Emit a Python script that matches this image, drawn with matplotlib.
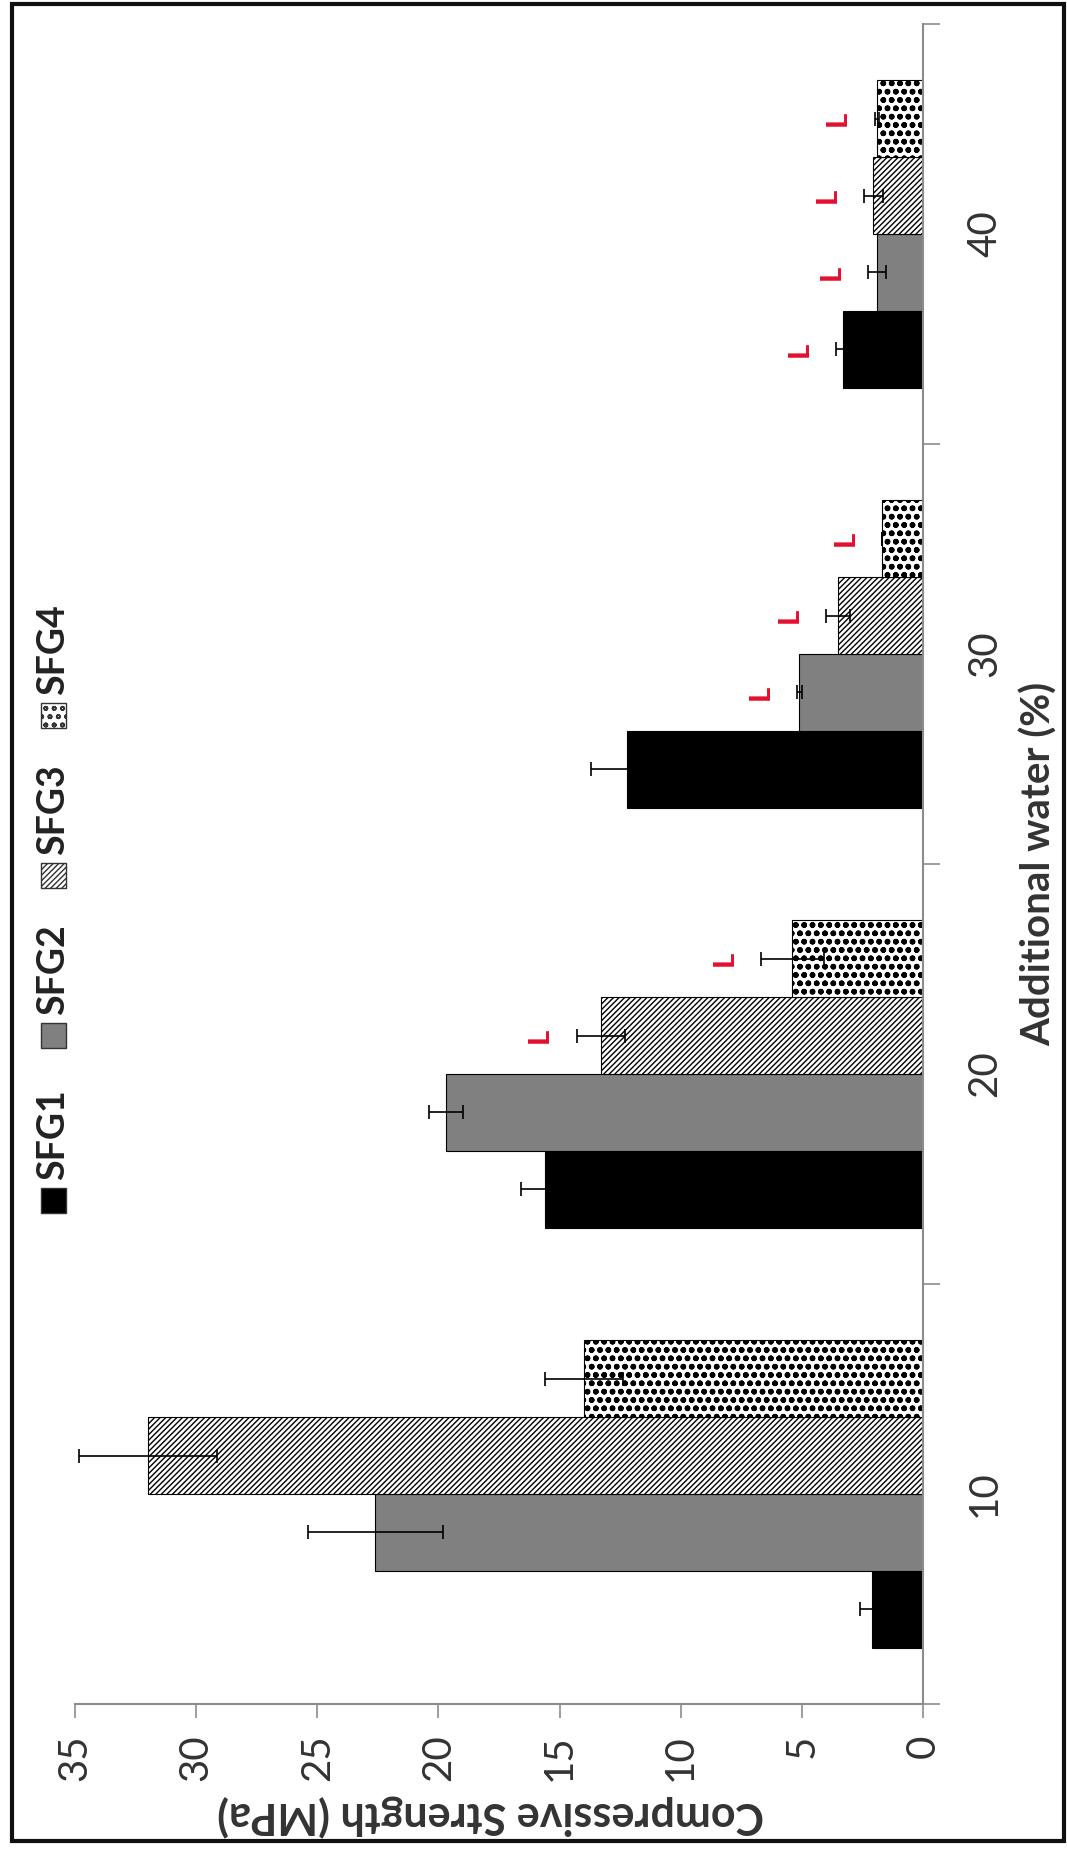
import matplotlib
matplotlib.use("Agg")
import matplotlib.pyplot as plt
import matplotlib.patches as mpatches
import numpy as np

# ---- data ----
categories = ["10", "20", "30", "40"]
series = ["SFG1", "SFG2", "SFG3", "SFG4"]
sfg1 = [2.1, 15.6, 12.2, 3.3]
sfg2 = [22.6, 19.7, 5.1, 1.9]
sfg3 = [32.0, 13.3, 3.5, 2.05]
sfg4 = [14.0, 5.4, 1.7, 1.9]
err1 = [0.5, 1.0, 1.5, 0.3]
err2 = [2.8, 0.7, 0.1, 0.37]
err3 = [2.85, 1.0, 0.5, 0.4]
err4 = [1.6, 1.3, 0.0, 0.1]
sig1 = ["", "", "", "L"]
sig2 = ["", "", "L", "L"]
sig3 = ["", "L", "L", "L"]
sig4 = ["", "L", "L", "L"]
value_ticks = [0, 5, 10, 15, 20, 25, 30, 35]

values = [sfg1, sfg2, sfg3, sfg4]
errors = [err1, err2, err3, err4]
sigs = [sig1, sig2, sig3, sig4]

plt.rcParams["font.family"] = ["Lato", "DejaVu Sans"]
plt.rcParams["hatch.linewidth"] = 1.0

W, H = 1067, 1854
fig = plt.figure(figsize=(W / 100, H / 100), dpi=100)
fig.patch.set_facecolor("white")

def fx(px):
    return px / W

def fy(py):
    return (H - py) / H

ax = fig.add_axes([fx(75), fy(1704), 848 / W, 1680 / H])

styles = [
    dict(color="black", edgecolor="black", hatch=None, hlw=1.0),
    dict(color="#808080", edgecolor="black", hatch=None, hlw=1.0),
    dict(color="white", edgecolor="black", hatch="//////", hlw=1.0),
    dict(color="white", edgecolor="black", hatch="oo", hlw=1.7),
]
bar_h = 0.183
pos = np.arange(1, len(categories) + 1)
for i, (vals, errs, st, sg) in enumerate(zip(values, errors, styles, sigs)):
    y = pos + (i - 1.5) * bar_h
    with plt.rc_context({"hatch.linewidth": st["hlw"]}):
        ax.barh(y, vals, height=bar_h, color=st["color"], edgecolor=st["edgecolor"],
                hatch=st["hatch"], linewidth=0.8,
                xerr=errs, error_kw=dict(ecolor="black", elinewidth=1.2, capsize=5, capthick=1.2))
    for yy, v, e, s in zip(y, vals, errs, sg):
        if s:
            ax.text(v + e + 1.5, yy, s, rotation=90, ha="center", va="center",
                    color="#e3102e", fontsize=21, fontweight="black")

ax.set_xlim(35, 0)
ax.set_ylim(0.5, len(categories) + 0.5)

# value axis (bottom)
ax.set_xticks(value_ticks)
ax.set_xticklabels([str(v) for v in value_ticks])
ax.tick_params(axis="x", which="major", direction="out", length=10, width=1.2,
               color="#8c8c8c", labelsize=29, labelcolor="#333333", labelrotation=90, pad=12)

# category axis (right)
ax.yaxis.tick_right()
ax.set_yticks(pos)
ax.set_yticklabels(categories)
ax.set_yticks(np.arange(0.5, len(categories) + 1, 1.0), minor=True)
ax.tick_params(axis="y", which="major", length=0, labelsize=29, labelcolor="#333333",
               labelrotation=90, pad=31)
ax.tick_params(axis="y", which="minor", direction="out", length=12, width=1.2, color="#8c8c8c")
for lbl in ax.get_yticklabels():
    lbl.set_verticalalignment("center")

for side in ["left", "top"]:
    ax.spines[side].set_visible(False)
for side in ["bottom", "right"]:
    ax.spines[side].set_color("#8c8c8c")
    ax.spines[side].set_linewidth(1.5)

ax.set_xlabel("Compressive Strength (MPa)", fontsize=31, fontweight="bold", color="#333333",
              rotation=180)
ax.xaxis.label.set_rotation_mode("anchor")
ax.xaxis.label.set_ha("center")
ax.xaxis.label.set_va("center")
ax.xaxis.set_label_coords(0.49, -0.066)

ax.yaxis.set_label_position("right")
ax.set_ylabel("Additional water (%)", fontsize=29, fontweight="bold", color="#333333",
              rotation=90)
ax.yaxis.label.set_rotation_mode("anchor")
ax.yaxis.label.set_ha("center")
ax.yaxis.label.set_va("center")
ax.yaxis.set_label_coords((1039 - 75) / 848, 0.5)

# legend (rotated, drawn manually)
sq = 25
leg_sq_y = [1200, 1035, 875, 715]
for name, st, sy in zip(series, styles, leg_sq_y):
    with plt.rc_context({"hatch.linewidth": min(st["hlw"], 1.2)}):
        rect = mpatches.Rectangle((fx(53 - sq / 2), fy(sy + sq / 2)), sq / W, sq / H,
                                  transform=fig.transFigure, facecolor=st["color"],
                                  edgecolor="#333333", hatch=st["hatch"], linewidth=1.0)
    fig.add_artist(rect)
    fig.text(fx(53), fy(sy - 20), name, rotation=90, ha="center", va="bottom",
             fontsize=27, fontweight="bold", color="#222222")

# outer frame
frame = mpatches.Rectangle((fx(12), fy(1841)), (1064 - 12) / W, (1841 - 4) / H,
                           transform=fig.transFigure, fill=False, edgecolor="#111111",
                           linewidth=3)
fig.add_artist(frame)

fig.savefig("out.png", dpi=100)
